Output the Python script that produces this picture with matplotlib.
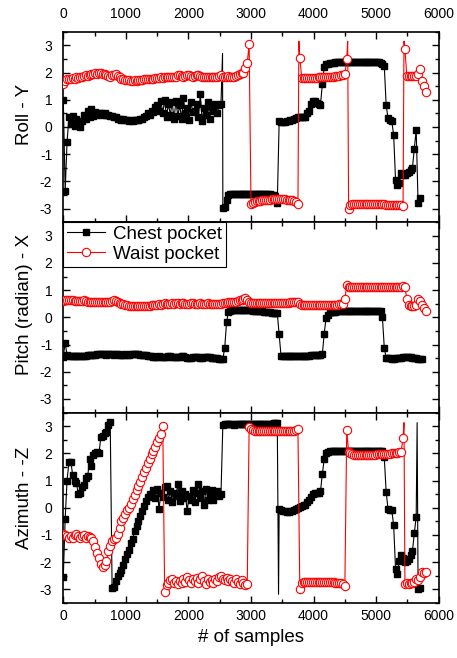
import numpy as np
import matplotlib
matplotlib.use("Agg")
import matplotlib.pyplot as plt
from matplotlib.lines import Line2D
from matplotlib.ticker import MultipleLocator

plt.rcParams["font.family"] = ["Liberation Sans", "DejaVu Sans"]
plt.rcParams["axes.unicode_minus"] = False

STEP = 30  # samples between stored points

# ---------------- Roll - Y ----------------
roll_chest = [
    1.0, -2.35, -0.55, 0.35, 0.1, 0.4, 0.05, 0.3, 0.15, 0.0,
    0.2, 0.45, 0.3, 0.6, 0.35, 0.65, 0.4, 0.55, 0.45, 0.5,
    0.5, 0.45, 0.5, 0.45, 0.45, 0.4, 0.4, 0.35, 0.35, 0.3,
    0.3, 0.25, 0.3, 0.25, 0.25, 0.2, 0.25, 0.2, 0.25, 0.25,
    0.25, 0.3, 0.3, 0.35, 0.4, 0.5, 0.45, 0.6, 0.55, 0.75,
    0.8, 0.6, 0.95, 0.5, 1.0, 0.35, 0.85, 0.45, 0.9, 0.3,
    0.95, 0.4, 0.8, 0.3, 1.05, 0.5, 0.7, 0.25, 0.9, 0.55,
    0.6, 0.85, 0.35, 1.2, 0.2, 0.7, 0.45, 0.9, 0.3, 0.75,
    0.6, 0.85, 0.5, 0.8, 0.85, -2.97, -2.95, -2.7, -2.5, -2.48,
    -2.48, -2.47, -2.47, -2.46, -2.47, -2.47, -2.46, -2.47, -2.47, -2.47,
    -2.47, -2.47, -2.46, -2.47, -2.47, -2.48, -2.47, -2.47, -2.48, -2.48,
    -2.48, -2.5, -2.5, -2.55, -2.78, 0.2, 0.18, 0.17, 0.18, 0.2,
    0.22, 0.25, 0.27, 0.3, 0.33, 0.35, 0.35, 0.35, 0.35, 0.38,
    0.5, 0.6, 0.85, 0.95, 0.95, 0.88, 0.83, 0.8, 1.57, 2.2,
    2.3, 2.33, 2.35, 2.35, 2.36, 2.37, 2.37, 2.37, 2.37, 2.38,
    2.38, 2.38, 2.38, 2.38, 2.38, 2.38, 2.38, 2.38, 2.38, 2.38,
    2.38, 2.39, 2.39, 2.4, 2.4, 2.4, 2.4, 2.4, 2.38, 2.35,
    2.3, 2.25, 0.8, 0.32, 0.25, 0.2, -0.3, -1.95, -2.15, -2.05,
    -1.7, -1.75, -1.75, -1.7, -1.65, -1.6, -1.5, -0.8, -0.1, -2.8,
    -2.6,
]
roll_chest_spike_x = [2545]
roll_chest_spike_y = [2.7]

roll_waist = [
    1.57, 1.7, 1.75, 1.78, 1.75, 1.8, 1.78, 1.82, 1.8, 1.85,
    1.85, 1.88, 1.9, 1.88, 1.92, 1.95, 1.93, 1.97, 1.95, 1.98,
    1.97, 1.95, 1.93, 1.9, 1.88, 1.85, 1.9, 1.92, 1.95, 1.88,
    1.82, 1.78, 1.75, 1.73, 1.72, 1.72, 1.7, 1.7, 1.72, 1.7,
    1.72, 1.72, 1.73, 1.75, 1.75, 1.76, 1.77, 1.78, 1.78, 1.8,
    1.8, 1.8, 1.82, 1.8, 1.82, 1.83, 1.82, 1.85, 1.85, 1.83,
    1.85, 1.9, 1.92, 1.88, 1.85, 1.87, 1.9, 1.92, 1.88, 1.85,
    1.88, 1.9, 1.92, 1.88, 1.85, 1.83, 1.85, 1.85, 1.82, 1.85,
    1.85, 1.83, 1.85, 1.88, 1.9, 1.85, 1.83, 1.85, 1.87, 1.83,
    1.83, 1.85, 1.88, 1.9, 1.95, 1.97, 2.0, 2.15, 2.35, 3.05,
    -2.85, -2.78, -2.75, -2.73, -2.72, -2.72, -2.7, -2.7, -2.7, -2.68,
    -2.67, -2.66, -2.66, -2.65, -2.65, -2.65, -2.65, -2.66, -2.66, -2.67,
    -2.68, -2.68, -2.7, -2.72, -2.75, -2.85, 2.55, 1.8, 1.8, 1.8,
    1.8, 1.8, 1.8, 1.8, 1.81, 1.81, 1.82, 1.82, 1.82, 1.83,
    1.83, 1.83, 1.84, 1.85, 1.85, 1.86, 1.87, 1.88, 1.9, 1.92,
    1.93, 2.48, -3.0, -2.88, -2.85, -2.85, -2.85, -2.85, -2.85, -2.85,
    -2.85, -2.85, -2.85, -2.85, -2.85, -2.85, -2.85, -2.85, -2.85, -2.85,
    -2.85, -2.85, -2.86, -2.86, -2.86, -2.86, -2.86, -2.87, -2.87, -2.87,
    -2.88, -2.9, 2.85, 1.87, 1.87, 1.87, 1.87, 1.87, 1.88, 1.95,
    2.12, 1.69, 1.5, 1.29,
]
roll_waist_spike_x = [3765, 4545, 5445]
roll_waist_spike_y = [3.15, 3.15, 3.15]

# ---------------- Pitch - X ----------------
pitch_chest = [
    -1.45, -0.93, -1.4, -1.42, -1.42, -1.43, -1.42, -1.41, -1.42, -1.43,
    -1.42, -1.41, -1.42, -1.4, -1.4, -1.38, -1.37, -1.37, -1.36, -1.36,
    -1.35, -1.36, -1.36, -1.37, -1.36, -1.35, -1.36, -1.37, -1.36, -1.36,
    -1.37, -1.38, -1.37, -1.36, -1.37, -1.37, -1.36, -1.35, -1.34, -1.35,
    -1.36, -1.37, -1.38, -1.38, -1.4, -1.42, -1.43, -1.42, -1.44, -1.45,
    -1.44, -1.43, -1.45, -1.47, -1.46, -1.44, -1.43, -1.42, -1.44, -1.46,
    -1.47, -1.46, -1.44, -1.42, -1.43, -1.46, -1.48, -1.5, -1.49, -1.47,
    -1.45, -1.44, -1.46, -1.48, -1.49, -1.47, -1.45, -1.44, -1.46, -1.48,
    -1.49, -1.5, -1.51, -1.52, -1.53, -1.54, -1.11, -0.16, 0.2, 0.25,
    0.26, 0.27, 0.27, 0.28, 0.28, 0.28, 0.27, 0.27, 0.27, 0.26,
    0.26, 0.25, 0.25, 0.24, 0.24, 0.23, 0.22, 0.21, 0.2, 0.19,
    0.18, 0.17, 0.16, 0.16, 0.15, -0.62, -1.42, -1.43, -1.42, -1.42,
    -1.42, -1.43, -1.42, -1.42, -1.42, -1.41, -1.42, -1.42, -1.41, -1.41,
    -1.41, -1.41, -1.4, -1.4, -1.4, -1.39, -1.38, -1.37, -1.35, -0.6,
    -0.01, 0.1, 0.18, 0.2, 0.21, 0.21, 0.22, 0.22, 0.22, 0.23,
    0.23, 0.23, 0.23, 0.23, 0.24, 0.24, 0.24, 0.24, 0.24, 0.24,
    0.24, 0.24, 0.25, 0.25, 0.25, 0.25, 0.25, 0.25, 0.24, 0.22,
    0.0, -1.11, -1.5, -1.5, -1.51, -1.52, -1.52, -1.51, -1.5, -1.5,
    -1.48, -1.47, -1.45, -1.44, -1.45, -1.47, -1.48, -1.5, -1.51, -1.52,
    -1.52, -1.53,
]
pitch_chest_spike_x = []
pitch_chest_spike_y = []

pitch_waist = [
    0.6, 0.63, 0.62, 0.64, 0.63, 0.62, 0.6, 0.61, 0.6, 0.59,
    0.6, 0.62, 0.6, 0.58, 0.57, 0.58, 0.56, 0.57, 0.56, 0.57,
    0.56, 0.55, 0.57, 0.56, 0.55, 0.58, 0.6, 0.62, 0.6, 0.56,
    0.53, 0.5, 0.48, 0.46, 0.45, 0.43, 0.42, 0.41, 0.42, 0.41,
    0.4, 0.41, 0.42, 0.41, 0.42, 0.43, 0.42, 0.44, 0.45, 0.46,
    0.47, 0.48, 0.47, 0.5, 0.52, 0.5, 0.48, 0.5, 0.52, 0.5,
    0.52, 0.53, 0.5, 0.51, 0.52, 0.5, 0.49, 0.5, 0.51, 0.52,
    0.5, 0.49, 0.5, 0.51, 0.5, 0.49, 0.5, 0.51, 0.49, 0.48,
    0.49, 0.5, 0.48, 0.49, 0.5, 0.51, 0.52, 0.53, 0.55, 0.56,
    0.55, 0.57, 0.58, 0.6, 0.62, 0.65, 0.68, 0.72, 0.62, 0.55,
    0.53, 0.52, 0.52, 0.51, 0.51, 0.52, 0.52, 0.52, 0.51, 0.52,
    0.52, 0.52, 0.53, 0.52, 0.52, 0.53, 0.53, 0.53, 0.54, 0.54,
    0.54, 0.55, 0.55, 0.56, 0.57, 0.58, 0.5, 0.45, 0.44, 0.44,
    0.44, 0.44, 0.45, 0.45, 0.45, 0.45, 0.45, 0.45, 0.46, 0.46,
    0.46, 0.46, 0.46, 0.46, 0.47, 0.47, 0.47, 0.48, 0.48, 0.5,
    0.68, 1.18, 1.13, 1.12, 1.12, 1.12, 1.12, 1.12, 1.12, 1.12,
    1.12, 1.12, 1.12, 1.12, 1.12, 1.12, 1.12, 1.12, 1.12, 1.12,
    1.12, 1.12, 1.12, 1.12, 1.12, 1.12, 1.12, 1.12, 1.12, 1.12,
    1.13, 1.14, 1.1, 0.68, 0.44, 0.42, 0.42, 0.43, 0.45, 0.68,
    0.6, 0.44, 0.35, 0.25,
]
pitch_waist_spike_x = []
pitch_waist_spike_y = []

# ---------------- Azimuth - -Z ----------------
azimuth_chest = [
    -2.55, -0.4, 1.0, 1.68, 1.7, 1.2, 1.0, 0.9, 0.5, 0.55,
    0.75, 0.85, 1.1, 1.15, 1.8, 1.55, 1.95, 2.0, 2.05, 2.0,
    2.6, 2.65, 2.75, 2.8, 3.05, 3.14, -2.95, -2.9, -2.7, -2.5,
    -2.4, -2.27, -2.1, -1.89, -1.7, -1.55, -1.3, -1.15, -0.85, -0.68,
    -0.48, -0.3, -0.11, 0.05, 0.26, 0.4, 0.5, 0.45, 0.65, 0.35,
    0.7, -0.05, 0.55, 0.4, 0.75, 0.81, 0.3, 0.6, 0.2, 0.55,
    0.45, 0.86, 0.25, 0.6, 0.35, 0.5, -0.11, 0.45, 0.3, 0.65,
    0.2, 0.55, 0.86, 0.35, 0.6, 0.1, 0.7, 0.3, 0.45, 0.65,
    0.3, 0.5, 0.6, 0.45, 0.5, 3.05, 3.08, 3.08, 3.08, 3.07,
    3.07, 3.06, 3.07, 3.08, 3.07, 3.07, 3.08, 3.07, 3.07, 3.08,
    3.08, 3.07, 3.08, 3.08, 3.08, 3.09, 3.08, 3.08, 3.09, 3.08,
    3.08, 3.09, 3.1, 3.1, 3.12, -0.05, -0.1, -0.12, -0.13, -0.15,
    -0.15, -0.13, -0.12, -0.1, -0.05, 0.0, 0.02, 0.05, 0.1, 0.12,
    0.2, 0.3, 0.4, 0.5, 0.55, 0.55, 0.56, 0.6, 1.24, 1.79,
    2.0, 2.05, 2.07, 2.08, 2.08, 2.08, 2.08, 2.08, 2.08, 2.08,
    2.08, 2.08, 2.08, 2.08, 2.08, 2.08, 2.08, 2.08, 2.08, 2.08,
    2.08, 2.08, 2.09, 2.09, 2.09, 2.1, 2.1, 2.1, 2.1, 2.1,
    2.08, 1.85, 0.58, -0.05, -0.08, -0.1, -0.65, -2.25, -2.43, -1.95,
    -1.75, -1.85, -2.0, -1.95, -1.9, -1.75, -1.6, -0.93, -0.33, -3.0,
    -2.95,
]
azimuth_chest_spike_x = [3440, 5655]
azimuth_chest_spike_y = [-3.18, 3.13]

azimuth_waist = [
    -0.95, -1.0, -1.05, -1.1, -1.05, -1.12, -1.0, -0.95, -1.05, -1.1,
    -1.05, -1.0, -1.1, -1.05, -1.08, -1.12, -1.21, -1.46, -1.65, -1.85,
    -2.05, -2.19, -2.1, -1.95, -1.6, -1.4, -1.21, -1.15, -1.1, -0.95,
    -0.75, -0.5, -0.36, -0.22, -0.1, 0.0, 0.15, 0.32, 0.47, 0.65,
    0.8, 0.95, 1.12, 1.3, 1.47, 1.63, 1.8, 1.96, 2.09, 2.25,
    2.42, 2.57, 2.72, 3.0, -3.1, -2.85, -2.75, -2.65, -2.62, -2.78,
    -2.7, -2.82, -2.68, -2.75, -2.6, -2.72, -2.55, -2.65, -2.78, -2.62,
    -2.7, -2.58, -2.75, -2.61, -2.49, -2.68, -2.8, -2.6, -2.72, -2.65,
    -2.78, -2.62, -2.7, -2.55, -2.49, -2.6, -2.65, -2.58, -2.7, -2.62,
    -2.68, -2.75, -2.6, -2.72, -2.8, -2.65, -2.75, -2.85, -2.79, 2.96,
    2.88, 2.85, 2.84, 2.84, 2.84, 2.84, 2.83, 2.83, 2.83, 2.83,
    2.83, 2.83, 2.83, 2.83, 2.83, 2.84, 2.84, 2.84, 2.84, 2.84,
    2.84, 2.84, 2.84, 2.84, 2.85, 2.9, -2.98, -2.75, -2.73, -2.72,
    -2.72, -2.72, -2.72, -2.72, -2.72, -2.72, -2.72, -2.72, -2.72, -2.72,
    -2.72, -2.73, -2.73, -2.74, -2.74, -2.75, -2.76, -2.77, -2.78, -2.8,
    -2.86, 2.87, 2.04, 2.0, 1.97, 1.95, 1.95, 1.95, 1.95, 1.95,
    1.95, 1.95, 1.95, 1.95, 1.95, 1.95, 1.95, 1.96, 1.96, 1.96,
    1.96, 1.97, 1.98, 1.98, 1.99, 2.0, 2.0, 2.02, 2.03, 2.04,
    2.06, 2.58, -2.81, -2.75, -2.8, -2.78, -2.75, -2.72, -2.62, -2.67,
    -2.56, -2.37, -2.38, -2.37,
]
azimuth_waist_spike_x = [5445]
azimuth_waist_spike_y = [3.13]

panel_labels = ["Roll - Y", "Pitch (radian) - X", "Azimuth - -Z"]
series_names = ["Chest pocket", "Waist pocket"]
x_label = "# of samples"


def sample_index(values):
    return np.arange(len(values)) * STEP


def with_spikes(x, y, sx, sy):
    xx = np.concatenate([x, np.asarray(sx, dtype=float)])
    yy = np.concatenate([np.asarray(y, dtype=float), np.asarray(sy, dtype=float)])
    order = np.argsort(xx, kind="stable")
    return xx[order], yy[order]


panels = [
    (roll_chest, roll_chest_spike_x, roll_chest_spike_y,
     roll_waist, roll_waist_spike_x, roll_waist_spike_y),
    (pitch_chest, pitch_chest_spike_x, pitch_chest_spike_y,
     pitch_waist, pitch_waist_spike_x, pitch_waist_spike_y),
    (azimuth_chest, azimuth_chest_spike_x, azimuth_chest_spike_y,
     azimuth_waist, azimuth_waist_spike_x, azimuth_waist_spike_y),
]

BLACK_MS = 5.0
RED_MS = 6.0
LW = 0.8

fig = plt.figure(figsize=(4.57, 6.58), dpi=100)
gs = fig.add_gridspec(3, 1, left=0.1385, right=0.96, top=0.9518,
                      bottom=0.0836, hspace=0)
axes = []
for i in range(3):
    ax = fig.add_subplot(gs[i], sharex=axes[0] if axes else None)
    axes.append(ax)

label_y = [0.565, 0.565, 0.55]
for i, (ax, data) in enumerate(zip(axes, panels)):
    chest, csx, csy, waist, wsx, wsy = data
    xc = sample_index(chest)
    lx, ly = with_spikes(xc, chest, csx, csy)
    ax.plot(lx, ly, color="black", lw=LW, zorder=2)
    ax.plot(xc, chest, ls="none", marker="s", ms=BLACK_MS, color="black",
            zorder=3)
    xw = sample_index(waist)
    lx, ly = with_spikes(xw, waist, wsx, wsy)
    ax.plot(lx, ly, color="red", lw=LW, zorder=4)
    ax.plot(xw, waist, ls="none", marker="o", ms=RED_MS, mfc="white",
            mec="red", mew=0.8, zorder=5)

    ax.set_xlim(0, 6000)
    ax.set_ylim(-3.5, 3.5)
    ax.xaxis.set_major_locator(MultipleLocator(1000))
    ax.xaxis.set_minor_locator(MultipleLocator(500))
    ax.yaxis.set_major_locator(MultipleLocator(1))
    ax.yaxis.set_minor_locator(MultipleLocator(0.5))
    ax.tick_params(which="both", direction="in", top=True, right=True,
                   width=1.0, labelsize=10, colors="black")
    ax.tick_params(which="major", length=5)
    ax.tick_params(which="minor", length=3)
    ax.tick_params(axis="y", pad=8)
    ax.tick_params(axis="x", labeltop=(i == 0), labelbottom=(i == 2))
    if i == 0:
        ax.tick_params(axis="x", pad=8)
    else:
        ax.tick_params(axis="x", pad=4)
    for sp in ax.spines.values():
        sp.set_linewidth(1.2)
    ax.set_ylabel(panel_labels[i], fontsize=13.5)
    ax.yaxis.set_label_coords(-0.082, label_y[i])

axes[2].set_xlabel(x_label, fontsize=13.5, labelpad=5)

handles = [
    Line2D([], [], color="black", lw=LW, marker="s", ms=BLACK_MS),
    Line2D([], [], color="red", lw=LW, marker="o", ms=RED_MS, mfc="white",
           mec="red", mew=0.8),
]
leg = axes[1].legend(handles, series_names, loc="upper left",
                     borderaxespad=0, fancybox=False, edgecolor="black",
                     framealpha=1, fontsize=13.5, handlelength=2.0,
                     handletextpad=0.45, borderpad=0.2, labelspacing=0.15)
leg.get_frame().set_linewidth(0.8)
leg.set_zorder(10)

fig.savefig("out.png", dpi=100)
